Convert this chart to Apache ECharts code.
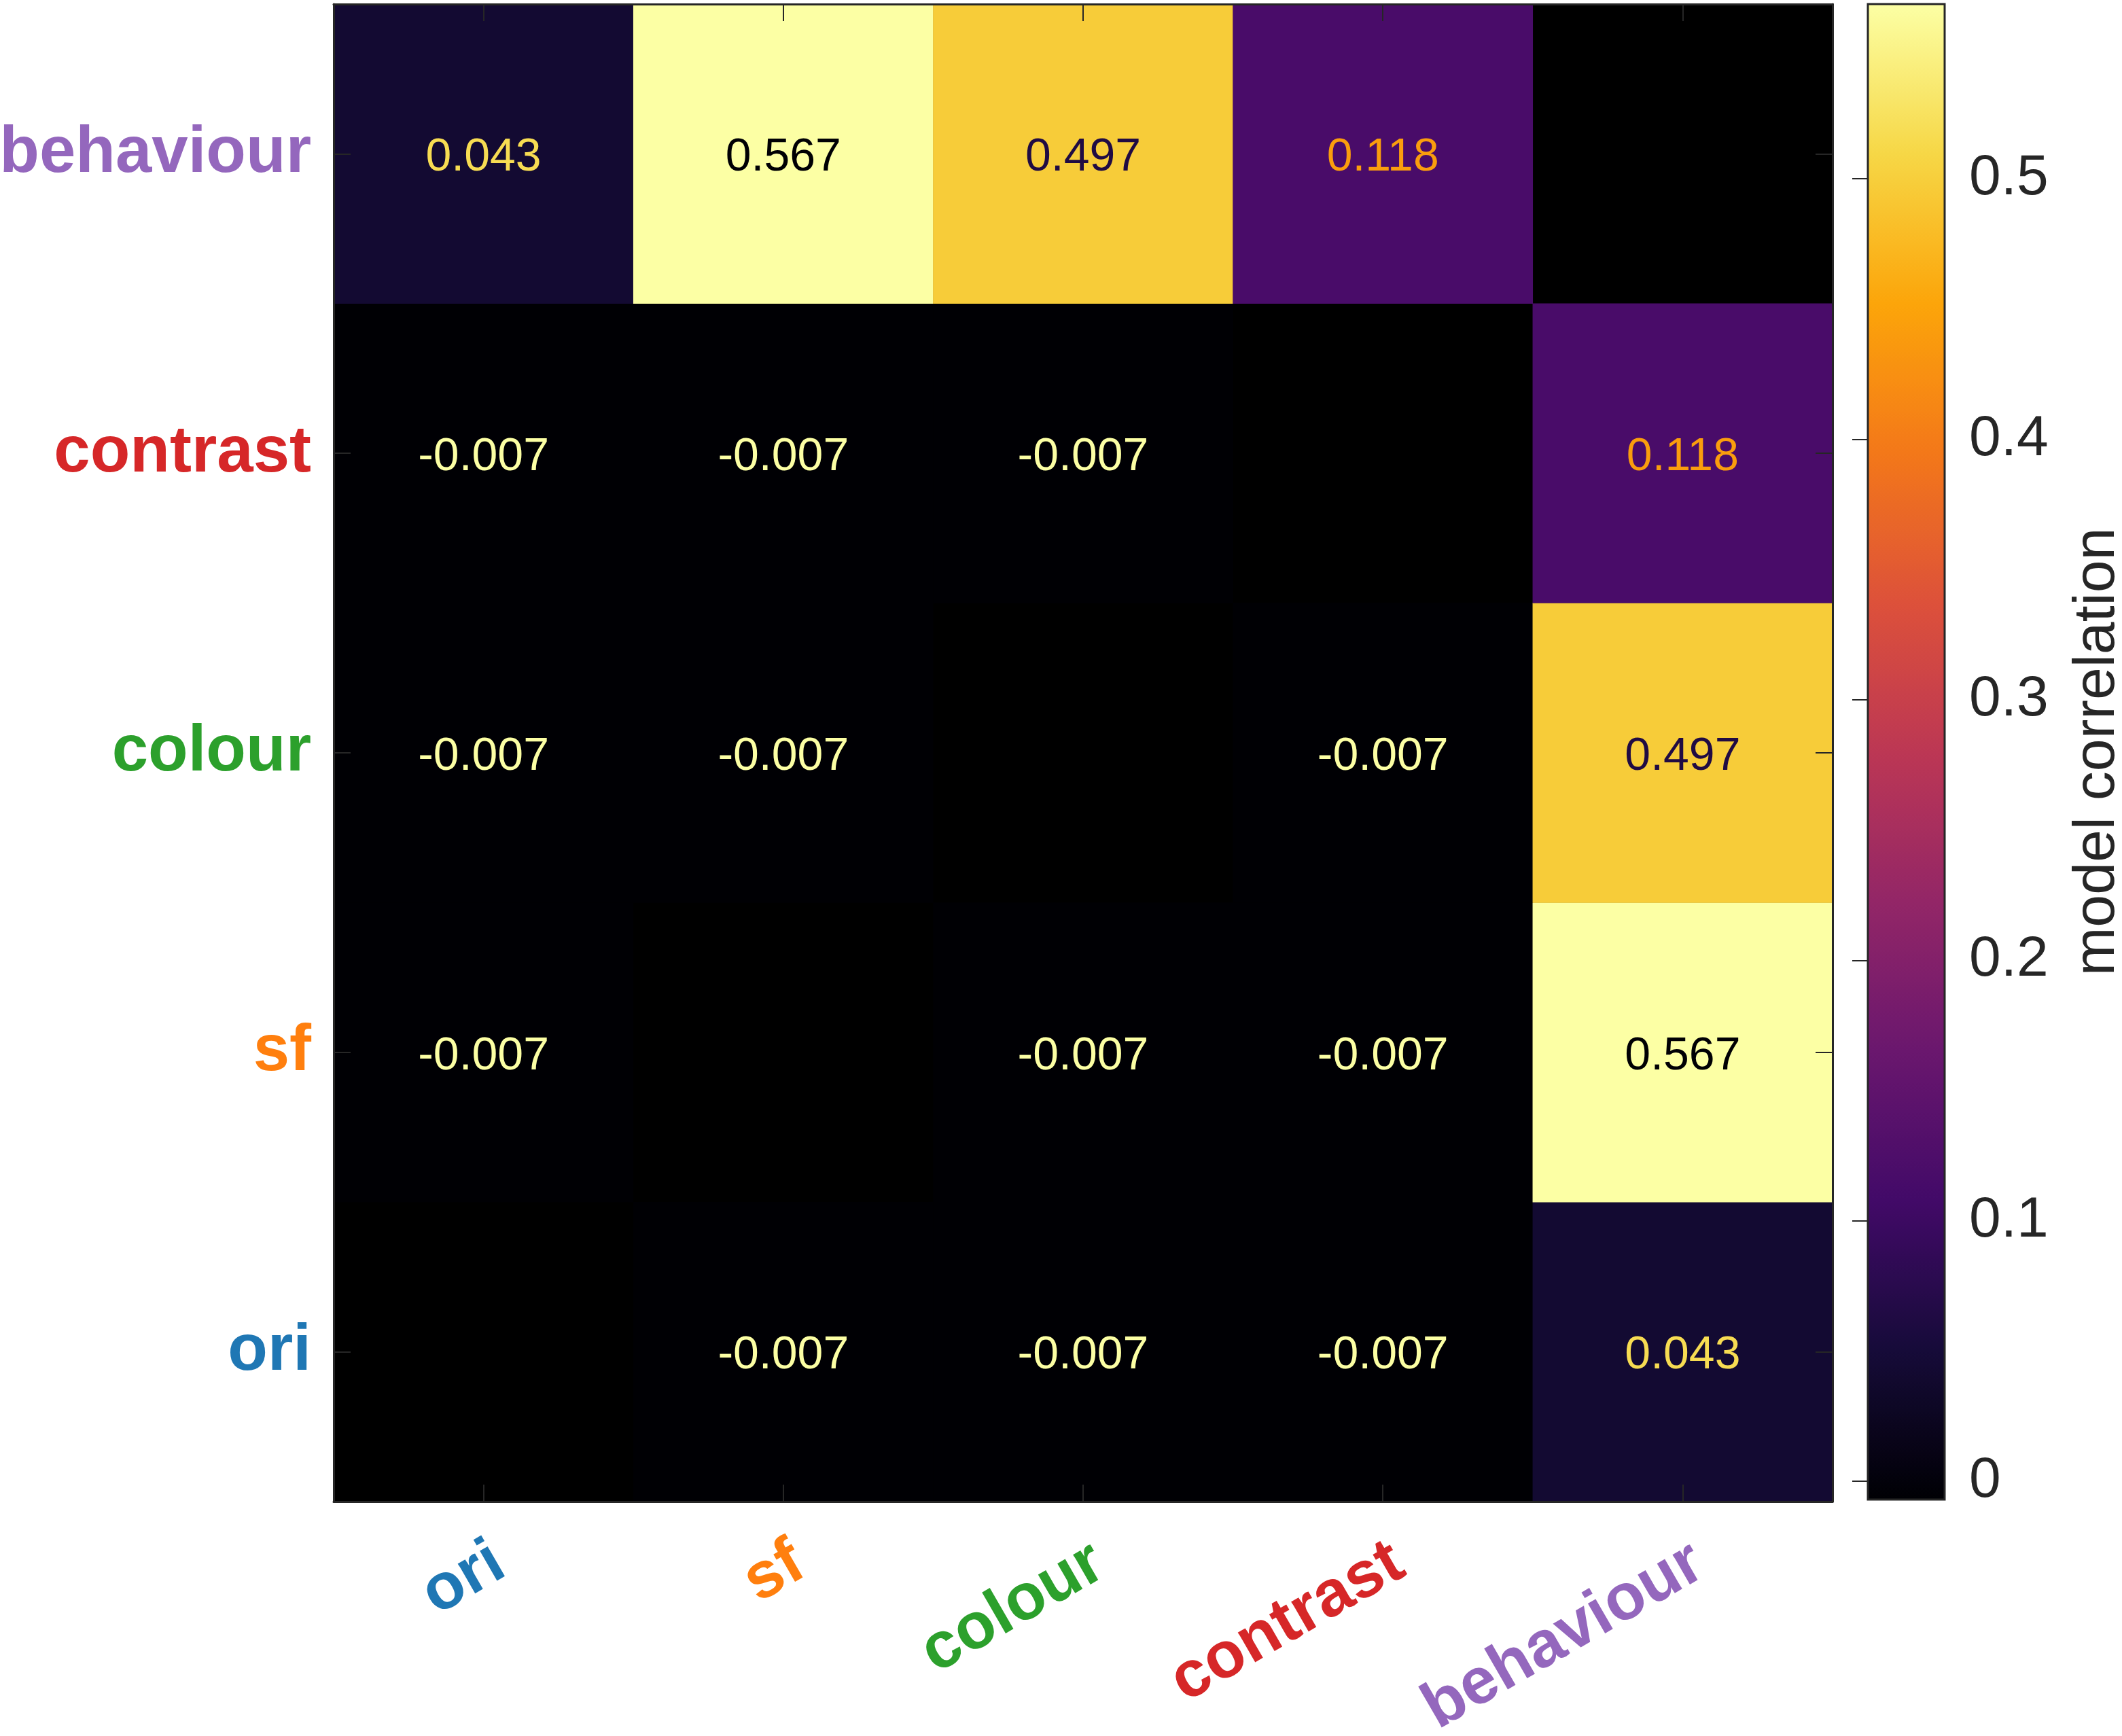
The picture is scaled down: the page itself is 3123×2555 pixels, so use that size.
<!DOCTYPE html>
<html><head><meta charset="utf-8">
<script src="https://cdn.jsdelivr.net/npm/echarts@6/dist/echarts.min.js"></script>
<style>html,body{margin:0;padding:0;background:#fff}#c{width:3123px;height:2555px}</style>
</head><body><div id="c"></div>
<script>
// Categories (x: left->right, y: bottom->top)
const categories = ['ori', 'sf', 'colour', 'contrast', 'behaviour'];
const labelColors = ['#1f77b4', '#ff7f0e', '#2ca02c', '#d62728', '#9467bd'];
// Rows of the matrix (null = diagonal, no value shown)
const rowOri       = [null,   -0.007, -0.007, -0.007, 0.043];
const rowSf        = [-0.007, null,   -0.007, -0.007, 0.567];
const rowColour    = [-0.007, -0.007, null,   -0.007, 0.497];
const rowContrast  = [-0.007, -0.007, -0.007, null,   0.118];
const rowBehaviour = [0.043,  0.567,  0.497,  0.118,  null];
const colorbarTicks = [0, 0.1, 0.2, 0.3, 0.4, 0.5];
const colorMin = -0.007, colorMax = 0.567;
const colorbarTitle = 'model correlation';

const inferno = ['#000004','#160b39','#420a68','#6a176e','#932667','#bc3754','#dd513a','#f37819','#fca50a','#f6d746','#fcffa4'];
function hex2rgb(h){return [parseInt(h.substr(1,2),16),parseInt(h.substr(3,2),16),parseInt(h.substr(5,2),16)];}
function infernoAt(t){
  t = Math.max(0, Math.min(1, t));
  const p = t * (inferno.length - 1), i = Math.min(Math.floor(p), inferno.length - 2), f = p - i;
  const a = hex2rgb(inferno[i]), b = hex2rgb(inferno[i+1]);
  return 'rgb(' + a.map((v,k)=>Math.round(v + (b[k]-v)*f)).join(',') + ')';
}
function textColor(v){ return infernoAt(1 - (v - colorMin) / (colorMax - colorMin)); }

const rows = [rowOri, rowSf, rowColour, rowContrast, rowBehaviour];
const data = [];
rows.forEach((row, r) => row.forEach((v, c) => {
  if (v !== null) data.push({ value: [c, r, v], label: { color: textColor(v) } });
}));

const FONT = "'Liberation Sans', Helvetica, Arial, sans-serif";
const AX = '#262626';
const G = { left: 491, top: 6, width: 2206, height: 2204 };
const CB = { left: 2749, top: 6, width: 113, height: 2201 };

const chart = echarts.init(document.getElementById('c'));
chart.setOption({
  animation: false,
  backgroundColor: '#ffffff',
  grid: [
    Object.assign({ show: true, backgroundColor: '#000000', borderWidth: 0, containLabel: false, outerBoundsMode: 'none' }, G),
    Object.assign({ show: true, backgroundColor: 'transparent', borderColor: AX, borderWidth: 3, z: 10, containLabel: false, outerBoundsMode: 'none' }, CB)
  ],
  xAxis: [
    { type: 'category', data: categories, gridIndex: 0, position: 'bottom', z: 5,
      axisLine: { show: true, lineStyle: { color: AX, width: 3 } },
      axisTick: { show: true, inside: true, alignWithLabel: true, length: 25, lineStyle: { color: AX, width: 2 } },
      axisLabel: { interval: 0, rotate: 30, verticalAlign: 'top', margin: 42, fontSize: 96, fontWeight: 'bold', fontFamily: FONT,
        color: (v, i) => labelColors[categories.indexOf(v)] },
      splitLine: { show: false } },
    { type: 'category', data: categories, gridIndex: 0, position: 'top', z: 5,
      axisLine: { show: true, lineStyle: { color: AX, width: 3 } },
      axisTick: { show: true, inside: true, alignWithLabel: true, length: 25, lineStyle: { color: AX, width: 2 } },
      axisLabel: { show: false }, splitLine: { show: false } },
    { type: 'value', gridIndex: 1, show: false, min: 0, max: 1 }
  ],
  yAxis: [
    { type: 'category', data: categories, gridIndex: 0, position: 'left', z: 5,
      axisLine: { show: true, lineStyle: { color: AX, width: 3 } },
      axisTick: { show: true, inside: true, alignWithLabel: true, length: 25, lineStyle: { color: AX, width: 2 } },
      axisLabel: { interval: 0, margin: 33, fontSize: 96, fontWeight: 'bold', fontFamily: FONT,
        color: (v, i) => labelColors[categories.indexOf(v)] },
      splitLine: { show: false } },
    { type: 'category', data: categories, gridIndex: 0, position: 'right', z: 5,
      axisLine: { show: true, lineStyle: { color: AX, width: 3 } },
      axisTick: { show: true, inside: true, alignWithLabel: true, length: 25, lineStyle: { color: AX, width: 2 } },
      axisLabel: { show: false }, splitLine: { show: false } },
    { type: 'value', gridIndex: 1, position: 'right', min: colorMin, max: colorMax, z: 10,
      axisLine: { show: false },
      axisTick: { show: true, inside: true, length: 23, customValues: colorbarTicks, lineStyle: { color: AX, width: 2 } },
      axisLabel: { customValues: colorbarTicks, margin: 36, fontSize: 84, color: AX, fontFamily: FONT,
        formatter: v => String(Math.round(v * 10) / 10) },
      splitLine: { show: false },
      name: colorbarTitle, nameLocation: 'middle', nameRotate: 90, nameGap: 182,
      nameTextStyle: { fontSize: 86, color: AX, fontFamily: FONT } }
  ],
  visualMap: {
    type: 'continuous', seriesIndex: 0, min: colorMin, max: colorMax,
    inRange: { color: inferno }, orient: 'vertical', left: CB.left, top: CB.top,
    itemWidth: CB.width, itemHeight: CB.height, padding: 0, calculable: false, hoverLink: false, text: null
  },
  series: [{
    type: 'heatmap', xAxisIndex: 0, yAxisIndex: 0, data: data,
    itemStyle: { borderWidth: 0 },
    label: { show: true, fontSize: 68, fontFamily: FONT, offset: [0, 6], formatter: p => p.value[2].toFixed(3) },
    emphasis: { disabled: true }
  }]
});
</script></body></html>
